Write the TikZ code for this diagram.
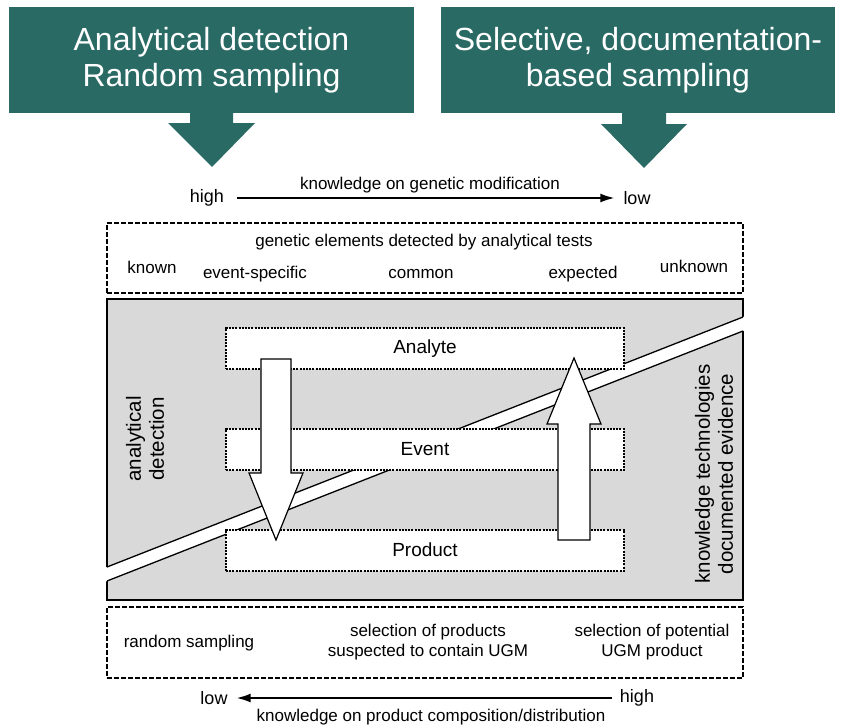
\documentclass[tikz,border=0pt]{standalone}
\usepackage{fontspec}
\setmainfont{Liberation Sans}
\usetikzlibrary{arrows.meta}
\definecolor{headteal}{RGB}{42,106,101}
\definecolor{fieldgray}{RGB}{217,217,217}
\begin{document}
\begin{tikzpicture}[x=1pt,y=-1pt,
  head/.style={fill=headteal,text=white,align=center,inner sep=0pt,font=\fontsize{32}{36}\selectfont},
  lbl/.style={inner sep=0pt,align=center,font=\fontsize{17}{20}\selectfont},
  hilo/.style={inner sep=0pt,font=\fontsize{18}{21}\selectfont},
  scalearrow/.style={-{Latex[length=14pt,width=9pt]},line width=1.6pt},
  dashbox/.style={draw,line width=1.5pt,dash pattern=on 5pt off 2pt,minimum width=636pt,inner sep=0pt},
  inbox/.style={draw,fill=white,line width=2pt,dash pattern=on 2pt off 1.2pt,minimum width=398pt,minimum height=41pt,inner sep=0pt,font=\fontsize{19}{22}\selectfont},
  flow/.style={draw,fill=white,line width=1.2pt,line join=miter},
  side/.style={inner sep=0pt,align=center,rotate=90,font=\fontsize{20.5}{23}\selectfont}]
\useasboundingbox (0,0) rectangle (841,728);
%
\node[head,minimum width=405pt,minimum height=106pt] (ranhead) at (211.5,60) {Analytical detection\\Random sampling};
\node[head,minimum width=394pt,minimum height=106pt] (dochead) at (638,60) {Selective, documentation-\\based sampling};
\fill[headteal] (190,112)--(190,123)--(168,123)--(212,167)--(255,123)--(233,123)--(233,112)--cycle;
\fill[headteal] (622,112)--(622,124)--(601,124)--(644,168)--(687,124)--(666,124)--(666,112)--cycle;
%
\node[lbl] (kgen) at (430,185) {knowledge on genetic modification};
\node[hilo] (ghigh) at (207,198) {high};
\node[hilo] (glow) at (637,198) {low};
\draw[scalearrow,shorten <=13pt,shorten >=9pt] (ghigh) -- (glow);
%
\node[dashbox,minimum height=70pt] (genbox) at (425,258) {};
\node[lbl] (genhead) at (424,242) {genetic elements detected by analytical tests};
\node[lbl] (known) at (152,267) {known};
\node[lbl] (evspec) at (255,274) {event-specific};
\node[lbl] (common) at (421,274) {common};
\node[lbl] (expected) at (583,274) {expected};
\node[lbl] (unknown) at (694,266) {unknown};
%
\draw[fill=fieldgray,line width=1.5pt] (107,299) rectangle (743,600);
\fill[white] (105,567.8)--(745,316.2)--(745,330.2)--(105,581.8)--cycle;
\draw[line width=1.3pt] (107,567)--(743,317);
\draw[line width=1.3pt] (107,581)--(743,331);
%
\node[inbox] (analyte) at (425,348.5) {Analyte};
\node[inbox] (event) at (425,449.5) {Event};
\node[inbox] (product) at (425,550) {Product};
\draw[flow] (261,359)--(291,359)--(291,473)--(303,473)--(276,540)--(249,473)--(261,473)--cycle;
\draw[flow] (558,540)--(590,540)--(590,424)--(601,424)--(574,358)--(547,424)--(558,424)--cycle;
%
\node[side] (anadet) at (145,439) {analytical\\detection};
\node[side] (docevi) at (714,474) {knowledge technologies\\documented evidence};
%
\node[dashbox,minimum height=71pt] (selbox) at (425,642.5) {};
\node[lbl] (random) at (189,643) {random sampling};
\node[lbl] (suspect) at (428,642) {selection of products\\suspected to contain UGM};
\node[lbl] (potent) at (652,642) {selection of potential\\UGM product};
%
\node[hilo] (plow) at (214,698) {low};
\node[hilo] (phigh) at (637,698) {high};
\draw[scalearrow,shorten <=8pt,shorten >=9pt] (phigh) -- (plow);
\node[lbl] (kprod) at (431,717) {knowledge on product composition/distribution};
\end{tikzpicture}
\end{document}
